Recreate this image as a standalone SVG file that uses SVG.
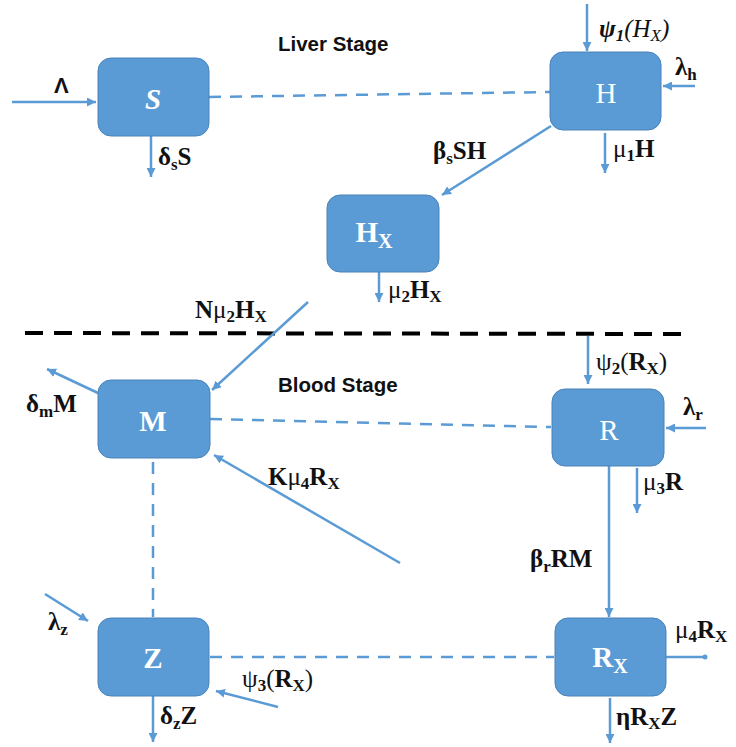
<svg xmlns="http://www.w3.org/2000/svg" width="736" height="747" viewBox="0 0 736 747">
<defs>
<marker id="ah" viewBox="0 0 10 10" refX="10" refY="5" markerWidth="9" markerHeight="9" markerUnits="userSpaceOnUse" orient="auto"><path d="M0,0 L10,5 L0,10 z" fill="#5B9BD5"/></marker>
<style>
.box{fill:#5B9BD5;stroke:#4A82B8;stroke-width:1}
.bl{font-family:"Liberation Serif",serif;font-size:29px;fill:#fff;text-anchor:middle}
.ln{stroke:#5B9BD5;stroke-width:2.5;fill:none}
.ar{stroke:#5B9BD5;stroke-width:2.5;fill:none;marker-end:url(#ah)}
.ds{stroke:#5B9BD5;stroke-width:2.5;fill:none;stroke-dasharray:12 9}
.lb{font-family:"Liberation Serif",serif;font-size:25px;font-weight:bold;fill:#111}
.st{font-family:"Liberation Sans",sans-serif;font-size:20.5px;font-weight:bold;fill:#111}
.sb{font-size:17px}
</style>
</defs>
<g id="connectors">
<line class="ar" x1="12" y1="102" x2="96" y2="102"/>
<line class="ar" x1="151" y1="136" x2="151" y2="177"/>
<line class="ds" x1="209" y1="97" x2="550" y2="92"/>
<line class="ar" x1="587" y1="4" x2="587" y2="51"/>
<line class="ar" x1="695" y1="86" x2="663" y2="86"/>
<line class="ar" x1="605" y1="133" x2="605" y2="173"/>
<line class="ar" x1="551" y1="126" x2="442" y2="195"/>
<line class="ar" x1="379" y1="272" x2="379" y2="302"/>
<line x1="25" y1="333" x2="683" y2="334" stroke="#000" stroke-width="4" stroke-dasharray="18 11"/>
<line class="ar" x1="308" y1="302" x2="212" y2="390"/>
<line class="ar" x1="98" y1="393" x2="47" y2="369"/>
<line class="ds" x1="210" y1="419" x2="551" y2="427"/>
<line class="ar" x1="400" y1="563" x2="214" y2="455"/>
<line class="ds" x1="153" y1="462" x2="153" y2="617"/>
<line class="ar" x1="588" y1="336" x2="588" y2="384"/>
<line class="ar" x1="706" y1="428" x2="666" y2="428"/>
<line class="ar" x1="637" y1="468" x2="637" y2="513"/>
<line class="ar" x1="609" y1="466" x2="609" y2="617"/>
<line class="ds" x1="210" y1="657" x2="554" y2="657"/>
<line class="ln" x1="666" y1="657" x2="704" y2="657"/>
<circle cx="705" cy="657" r="2.5" fill="#5B9BD5"/>
<line class="ar" x1="610" y1="698" x2="610" y2="743"/>
<line class="ar" x1="45" y1="594" x2="88" y2="621"/>
<line class="ar" x1="278" y1="707" x2="216" y2="691"/>
<line class="ar" x1="153" y1="696" x2="153" y2="742"/>
</g>
<g id="node-S"><rect class="box" x="98" y="58" width="111" height="78" rx="13"/><text class="bl" x="153" y="109" font-style="italic" font-weight="bold">S</text></g>
<g id="node-H"><rect class="box" x="550" y="52" width="111" height="78" rx="13"/><text class="bl" x="606" y="103">H</text></g>
<g id="node-HX"><rect class="box" x="327" y="195" width="112" height="77" rx="13"/><text class="bl" x="374" y="242" font-weight="bold">H<tspan font-size="20" dy="6">X</tspan></text></g>
<g id="node-M"><rect class="box" x="98" y="380" width="112" height="78" rx="13"/><text class="bl" x="153" y="431" font-weight="bold">M</text></g>
<g id="node-R"><rect class="box" x="552" y="389" width="112" height="77" rx="13"/><text class="bl" x="609" y="440">R</text></g>
<g id="node-Z"><rect class="box" x="98" y="618" width="111" height="78" rx="13"/><text class="bl" x="153" y="668" font-weight="bold">Z</text></g>
<g id="node-RX"><rect class="box" x="555" y="618" width="111" height="78" rx="13"/><text class="bl" x="610" y="667" font-weight="bold">R<tspan font-size="20" dy="6">X</tspan></text></g>
<g id="labels">
<text class="st" x="278" y="51">Liver Stage</text>
<text class="st" x="278" y="392">Blood Stage</text>
<text x="54" y="93" font-family="Liberation Sans,sans-serif" font-size="22" font-weight="bold" fill="#111">Λ</text>
<text class="lb" x="158" y="165">δ<tspan class="sb" dy="5">s</tspan><tspan dy="-5">S</tspan></text>
<text class="lb" x="599" y="37" font-style="italic">ψ<tspan class="sb" dy="4">1</tspan><tspan dy="-4" font-weight="normal">(H</tspan><tspan class="sb" dy="4" font-weight="normal">X</tspan><tspan dy="-4" font-weight="normal">)</tspan></text>
<text class="lb" x="675" y="75">λ<tspan class="sb" dy="5">h</tspan></text>
<text class="lb" x="613" y="157"><tspan font-weight="normal">μ</tspan><tspan class="sb" dy="4">1</tspan><tspan dy="-4">H</tspan></text>
<text class="lb" x="433" y="159">β<tspan class="sb" dy="5">s</tspan><tspan dy="-5">SH</tspan></text>
<text class="lb" x="388" y="298"><tspan font-weight="normal">μ</tspan><tspan class="sb" dy="4">2</tspan><tspan dy="-4">H</tspan><tspan class="sb" dy="4">X</tspan></text>
<text class="lb" x="195" y="318">N<tspan font-weight="normal">μ</tspan><tspan class="sb" dy="4">2</tspan><tspan dy="-4">H</tspan><tspan class="sb" dy="4">X</tspan></text>
<text class="lb" x="26" y="412">δ<tspan class="sb" dy="5">m</tspan><tspan dy="-5">M</tspan></text>
<text class="lb" x="268" y="485">K<tspan font-weight="normal">μ</tspan><tspan class="sb" dy="4">4</tspan><tspan dy="-4">R</tspan><tspan class="sb" dy="4">X</tspan></text>
<text class="lb" x="596" y="370"><tspan font-weight="normal">ψ</tspan><tspan class="sb" dy="4">2</tspan><tspan dy="-4" font-weight="normal">(</tspan>R<tspan class="sb" dy="4">X</tspan><tspan dy="-4" font-weight="normal">)</tspan></text>
<text class="lb" x="683" y="415">λ<tspan class="sb" dy="5">r</tspan></text>
<text class="lb" x="643" y="490"><tspan font-weight="normal">μ</tspan><tspan class="sb" dy="4">3</tspan><tspan dy="-4">R</tspan></text>
<text class="lb" x="530" y="567">β<tspan class="sb" dy="5">r</tspan><tspan dy="-5">RM</tspan></text>
<text class="lb" x="675" y="638"><tspan font-weight="normal">μ</tspan><tspan class="sb" dy="4">4</tspan><tspan dy="-4">R</tspan><tspan class="sb" dy="4">X</tspan></text>
<text class="lb" x="616" y="725">η<tspan>R</tspan><tspan class="sb" dy="4">X</tspan><tspan dy="-4">Z</tspan></text>
<text class="lb" x="48" y="630">λ<tspan class="sb" dy="5">z</tspan></text>
<text class="lb" x="242" y="687"><tspan font-weight="normal">ψ</tspan><tspan class="sb" dy="4">3</tspan><tspan dy="-4" font-weight="normal">(</tspan>R<tspan class="sb" dy="4">X</tspan><tspan dy="-4" font-weight="normal">)</tspan></text>
<text class="lb" x="160" y="724">δ<tspan class="sb" dy="5">z</tspan><tspan dy="-5">Z</tspan></text>
</g>
</svg>
